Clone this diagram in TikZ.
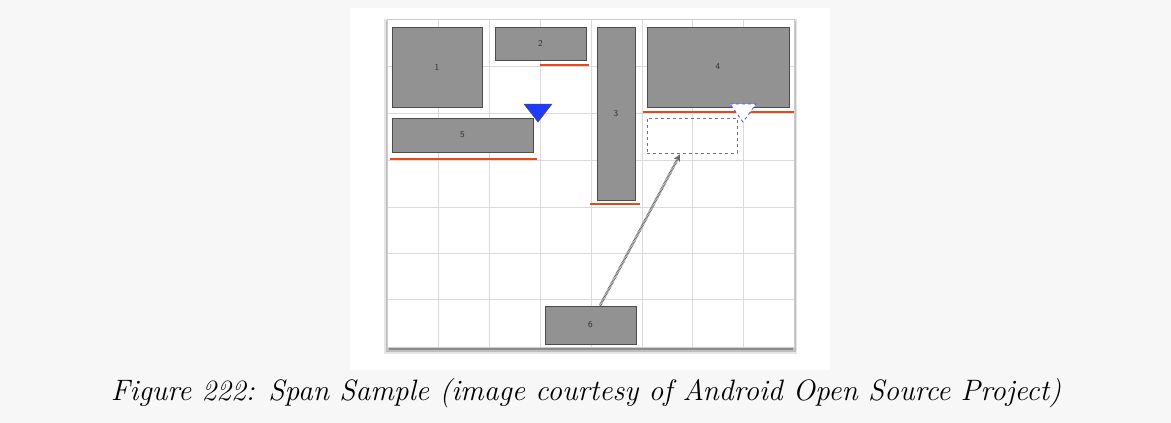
\documentclass[tikz,border=0pt]{standalone}
\usepackage{tikz}
\usetikzlibrary{calc,arrows.meta,positioning}
\definecolor{pagebg}{HTML}{F7F7F7}
\definecolor{boxgray}{HTML}{929292}
\definecolor{spanred}{HTML}{E8481C}
\definecolor{gridgray}{HTML}{DADADA}
\definecolor{dropblue}{HTML}{1F3BFF}

\begin{document}
\begin{tikzpicture}[
  x=1pt, y=-1pt,
  cell/.style={draw=black!70, fill=boxgray, line width=0.8pt, inner sep=0pt, font=\fontsize{9}{10}\sffamily, text=black!80},
  ghostcell/.style={draw=black!55, dashed, line width=0.8pt, inner sep=0pt},
  spanline/.style={draw=spanred, line width=2.2pt},
  gridline/.style={draw=gridgray, line width=0.8pt},
  dragarrow/.style={draw=black!60, line width=2.6pt, dash pattern=on 0.7pt off 0.7pt, -{Stealth[length=7pt,width=7pt,open]}}
]
\useasboundingbox[fill=pagebg] (0,0) rectangle (1171,423);
\fill[white] (350,8) rectangle (830,370);
% panel with shadow
\fill[black!10] (384,19) rectangle (797,354);
\fill[black!25] (386,21) rectangle (796,352);
\fill[black!45] (389,345) rectangle (793,350);
\fill[white] (387,19) rectangle (794,347);
\foreach \gx in {438,489,540,591,642,692,743}
  \draw[gridline] (\gx,19) -- (\gx,347);
\foreach \gy in {66,113,160,207,253,299}
  \draw[gridline] (387,\gy) -- (794,\gy);
\draw[black!20, line width=0.6pt] (387,19) rectangle (794,347);

% boxes
\node[cell, minimum width=90pt, minimum height=80pt] (b1) at (437,67) {1};
\node[cell, minimum width=91pt, minimum height=33pt] (b2) at (540.5,43.5) {2};
\node[cell, minimum width=38pt, minimum height=173pt] (b3) at (616,113.5) {3};
\node[cell, minimum width=142pt, minimum height=80pt] (b4) at (718,67) {4};
\node[cell, minimum width=141pt, minimum height=34pt] (b5) at (462.5,135) {5};
\node[cell, minimum width=91pt, minimum height=38pt] (b6) at (590.5,325) {6};
\node[ghostcell, minimum width=90pt, minimum height=35pt] (ghost) at (692,135.5) {};

% span edges
\draw[spanline] (540,65) -- (589,65);
\draw[spanline] (390,159) -- (537,159);
\draw[spanline] (590,204) -- (640,204);
\draw[spanline] (643,112) -- (794,112);

% drop markers
\draw[black!70, fill=dropblue, line width=0.5pt] (524,104) -- (552,104) -- (538,122) -- cycle;
\draw[blue!70, fill=white, dashed, line width=0.8pt] (730,104) -- (756,104) -- (743,122) -- cycle;

\draw[dragarrow] ($(b6.north)+(9.5,0)$) -- ($(ghost.south)+(-12,1)$);

\node[font=\fontsize{29.5}{32}\selectfont\itshape] (caption) at (586,393)
  {Figure 222: Span Sample (image courtesy of Android Open Source Project)};
\end{tikzpicture}
\end{document}
